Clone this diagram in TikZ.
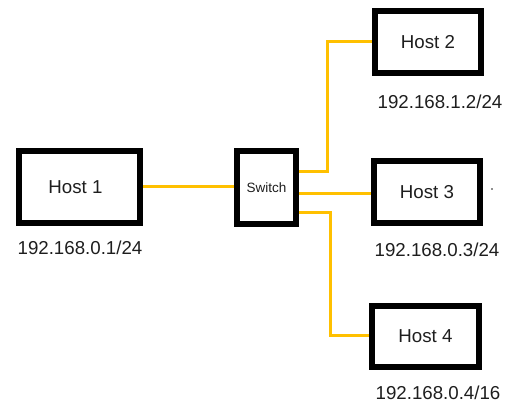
\documentclass[tikz,border=0pt]{standalone}
\usepackage{fontspec}
\setmainfont{Liberation Sans}
\definecolor{wirecol}{RGB}{255,192,0}
\definecolor{txt}{RGB}{30,30,30}
\begin{document}
\begin{tikzpicture}[x=1pt,y=-1pt,
  hostbox/.style={draw=black,line width=6pt,rectangle,inner sep=0pt,font=\fontsize{18.7}{21}\selectfont,text=txt},
  iplabel/.style={font=\fontsize{18.7}{21}\selectfont,text=txt,inner sep=0pt},
  wire/.style={draw=wirecol,line width=3pt}]
\useasboundingbox (0,0) rectangle (517,403);
\node[hostbox,minimum width=121pt,minimum height=72pt] (h1) at (79.5,187) {\hspace*{-8pt}Host 1};
\node[hostbox,minimum width=106pt,minimum height=62pt] (h2) at (428,42) {Host 2};
\node[hostbox,minimum width=106pt,minimum height=62pt] (h3) at (427,192) {Host 3};
\node[hostbox,minimum width=107pt,minimum height=61pt] (h4) at (425.5,336.5) {Host 4};
\node[hostbox,minimum width=59pt,minimum height=73pt,font=\fontsize{13.5}{15}\selectfont] (sw) at (266.5,187.5) {Switch};
\node[iplabel] (l1) at (80,248) {192.168.0.1/24};
\node[iplabel] (l2) at (440,102) {192.168.1.2/24};
\node[iplabel] (l3) at (437,250) {192.168.0.3/24};
\node[iplabel] (l4) at (438,393) {192.168.0.4/16};
\coordinate (b2) at (327,42);
\coordinate (b3) at (300,193.5);
\coordinate (b4) at (330,336);
\draw[wire] (h1.east) -- (sw.west|-h1.east);
\draw[wire] ([yshift=15.5pt]sw.east) -| (b2) -- (h2.west|-b2);
\draw[wire] (sw.east|-b3) -- (h3.west|-b3);
\draw[wire] ([yshift=-25.5pt]sw.east) -| (b4) -- (h4.west|-b4);
\fill[txt] (492,189) circle (0.8pt);
\end{tikzpicture}
\end{document}
